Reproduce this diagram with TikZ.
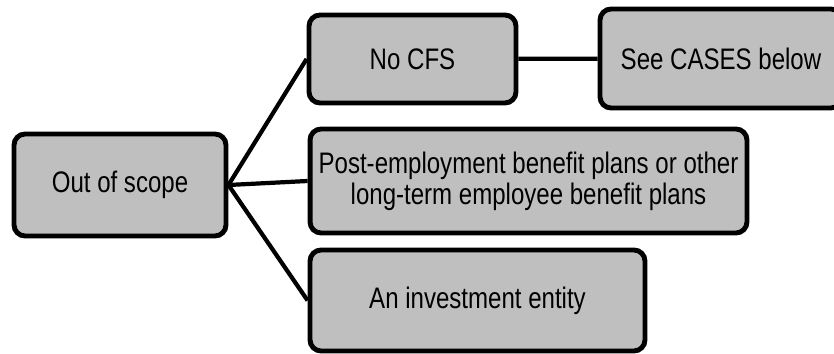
\documentclass[tikz,border=0pt]{standalone}
\usepackage{fontspec}
\setmainfont[FakeStretch=0.81]{Liberation Sans}

\begin{document}
\begin{tikzpicture}[x=0.02cm, y=-0.02cm,
  box/.style={draw, fill=black!25, line width=2.8pt, rounded corners=0.22cm, align=center, inner sep=0pt, font=\fontsize{16.9}{17.6}\selectfont},
  link/.style={line width=2.4pt}]
\useasboundingbox (0,0) rectangle (834,354);
\clip (0,0) rectangle (834,354);

\node[box, minimum width=4.24cm, minimum height=2.04cm] (scope) at (120,185) {Out of scope};
\node[box, minimum width=4.14cm, minimum height=1.76cm] (nocfs) at (412.5,59) {No CFS};
\node[box, minimum width=4.84cm, minimum height=1.98cm] (cases) at (721,58.5) {See CASES below};
\node[box, minimum width=8.74cm, minimum height=2.08cm] (post) at (528.5,181) {Post-employment benefit plans or other\\long-term employee benefit plans};
\node[box, minimum width=6.70cm, minimum height=2.02cm] (invest) at (477.5,300.5) {An investment entity};

\draw[link] (scope.east) -- (nocfs.west);
\draw[link] (scope.east) -- (post.west);
\draw[link] (scope.east) -- (invest.west);

\draw[link] (nocfs) -- (cases);

\end{tikzpicture}
\end{document}
